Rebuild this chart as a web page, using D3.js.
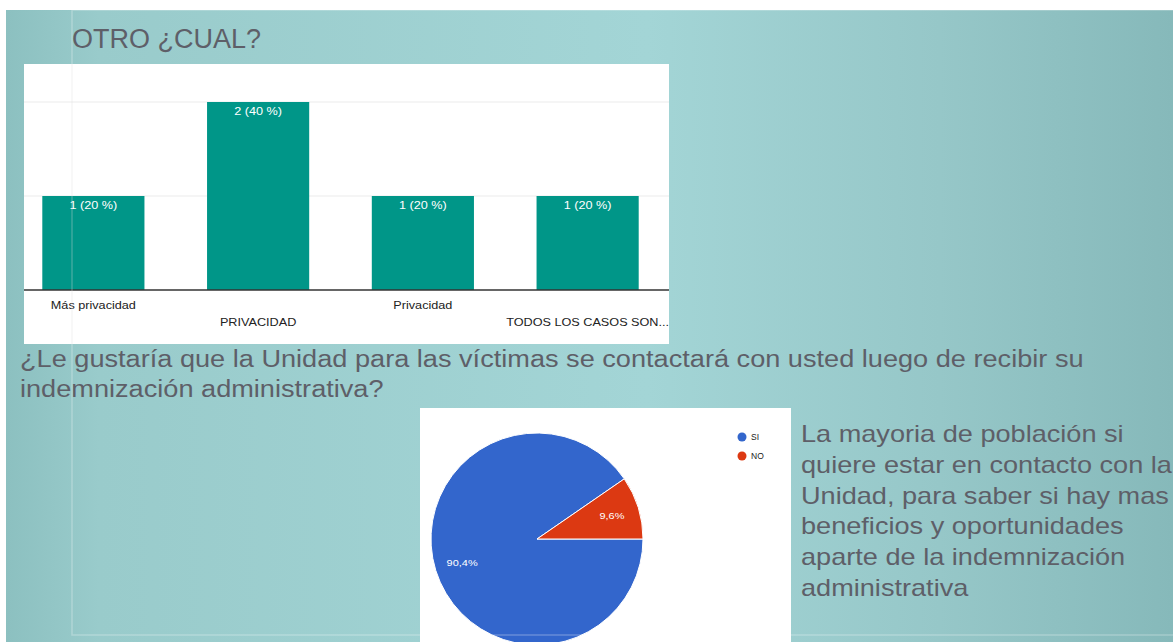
<!DOCTYPE html>
<html>
<head>
<meta charset="utf-8">
<script src="https://cdn.jsdelivr.net/npm/d3@7"></script>
<style>
  html, body { margin: 0; padding: 0; background: #fff; }
  svg { display: block; }
  text { font-family: "Liberation Sans", Arial, sans-serif; }
</style>
</head>
<body>
<div id="slide"></div>
<script>
// bar chart data (OTRO ¿CUAL?)
const barCategories = ['Más privacidad', 'PRIVACIDAD', 'Privacidad', 'TODOS LOS CASOS SON...'];
const barValues = [1, 2, 1, 1];
const barLabels = ['1 (20 %)', '2 (40 %)', '1 (20 %)', '1 (20 %)'];
const barTicks = [1, 2];

// pie chart data
const pieCategories = ['SI', 'NO'];
const pieValues = [90.4, 9.6];
const pieLabels = ['90,4%', '9,6%'];
const pieColors = ['#3366cc', '#dc3912'];

// slide texts
const titleText = 'OTRO ¿CUAL?';
const questionLines = [
  '¿Le gustaría que la Unidad para las víctimas se contactará con usted luego de recibir su',
  'indemnización administrativa?'
];
const noteLines = [
  'La mayoria de población si',
  'quiere estar en contacto con la',
  'Unidad, para saber si hay mas',
  'beneficios y oportunidades',
  'aparte de la indemnización',
  'administrativa'
];

const width = 1173, height = 642;
const textGray = '#5e5f68';

// the slide text is a bit wider than the local font, stretch it a little
function stretch(sel, k) {
  sel.each(function() {
    const w = this.getComputedTextLength();
    d3.select(this)
      .attr('textLength', w * k)
      .attr('lengthAdjust', 'spacingAndGlyphs');
  });
}

const svg = d3.select('#slide').append('svg')
  .attr('width', width)
  .attr('height', height);

// background gradient of the slide
const defs = svg.append('defs');
const grad = defs.append('linearGradient').attr('id', 'bg').attr('x1', '0%').attr('x2', '100%');
[['0%', '#8cc0c0'], ['8%', '#99cbcb'], ['55%', '#a3d5d6'], ['80%', '#96c7c8'], ['100%', '#86b9ba']]
  .forEach(s => grad.append('stop').attr('offset', s[0]).attr('stop-color', s[1]));

svg.append('rect')
  .attr('x', 6).attr('y', 10)
  .attr('width', width - 6).attr('height', height - 10)
  .attr('fill', 'url(#bg)');

// title
svg.append('text')
  .attr('x', 72).attr('y', 48)
  .attr('font-size', 27)
  .attr('fill', textGray)
  .text(titleText);

// ---------- bar chart ----------
const barBox = { x: 24, y: 64, w: 645, h: 280 };
svg.append('rect')
  .attr('x', barBox.x).attr('y', barBox.y)
  .attr('width', barBox.w).attr('height', barBox.h)
  .attr('fill', '#fff');

const x = d3.scaleBand()
  .domain(barCategories)
  .range([11, 670])
  .paddingInner(0.38)
  .paddingOuter(0.19);

const y = d3.scaleLinear()
  .domain([0, 2])
  .range([290, 102]);

const bars = svg.append('g');

// gridlines
bars.selectAll('line.grid')
  .data(barTicks)
  .enter().append('line')
  .attr('x1', barBox.x).attr('x2', barBox.x + barBox.w)
  .attr('y1', d => y(d)).attr('y2', d => y(d))
  .attr('stroke', '#ebebeb')
  .attr('stroke-width', 1);

bars.selectAll('rect.bar')
  .data(barValues)
  .enter().append('rect')
  .attr('x', (d, i) => x(barCategories[i]))
  .attr('y', d => y(d))
  .attr('width', x.bandwidth())
  .attr('height', d => y(0) - y(d))
  .attr('fill', '#009688');

bars.selectAll('text.val')
  .data(barValues)
  .enter().append('text')
  .attr('x', (d, i) => x(barCategories[i]) + x.bandwidth() / 2)
  .attr('y', d => y(d) + 13)
  .attr('text-anchor', 'middle')
  .attr('font-size', 11)
  .attr('fill', '#fff')
  .text((d, i) => barLabels[i])
  .call(stretch, 1.15);

// baseline
bars.append('line')
  .attr('x1', barBox.x).attr('x2', barBox.x + barBox.w)
  .attr('y1', y(0)).attr('y2', y(0))
  .attr('stroke', '#333')
  .attr('stroke-width', 1.5);

// category labels, staggered
bars.selectAll('text.cat')
  .data(barCategories)
  .enter().append('text')
  .attr('x', d => x(d) + x.bandwidth() / 2)
  .attr('y', (d, i) => i % 2 === 0 ? 309 : 326)
  .attr('text-anchor', 'middle')
  .attr('font-size', 11)
  .attr('fill', '#222')
  .text(d => d)
  .call(stretch, 1.15);

// question
svg.append('g').selectAll('text')
  .data(questionLines)
  .enter().append('text')
  .attr('x', 20)
  .attr('y', (d, i) => 367 + i * 30)
  .attr('font-size', 23)
  .attr('fill', textGray)
  .text(d => d)
  .call(stretch, 1.18);

// ---------- pie chart ----------
const pieBox = { x: 420, y: 408, w: 371, h: 240 };
svg.append('rect')
  .attr('x', pieBox.x).attr('y', pieBox.y)
  .attr('width', pieBox.w).attr('height', pieBox.h)
  .attr('fill', '#fff');

const cx = 537, cy = 539, r = 106;
const pie = d3.pie().sort(null)
  .startAngle(Math.PI / 2)
  .endAngle(Math.PI / 2 + 2 * Math.PI);
const arc = d3.arc().innerRadius(0).outerRadius(r);
const labelArc = d3.arc().innerRadius(r * 0.74).outerRadius(r * 0.74);
const arcs = pie(pieValues);

const pieG = svg.append('g').attr('transform', `translate(${cx},${cy})`);
pieG.selectAll('path')
  .data(arcs)
  .enter().append('path')
  .attr('d', arc)
  .attr('fill', (d, i) => pieColors[i])
  .attr('stroke', '#fff')
  .attr('stroke-width', 1);

pieG.selectAll('text')
  .data(arcs)
  .enter().append('text')
  .attr('transform', d => `translate(${labelArc.centroid(d)})`)
  .attr('text-anchor', 'middle')
  .attr('dy', '0.35em')
  .attr('font-size', 9.5)
  .attr('fill', '#fff')
  .text((d, i) => pieLabels[i])
  .call(stretch, 1.15);

// legend
const legend = svg.append('g');
legend.selectAll('circle')
  .data(pieCategories)
  .enter().append('circle')
  .attr('cx', 742)
  .attr('cy', (d, i) => 437 + i * 19)
  .attr('r', 4.5)
  .attr('fill', (d, i) => pieColors[i]);
legend.selectAll('text')
  .data(pieCategories)
  .enter().append('text')
  .attr('x', 751)
  .attr('y', (d, i) => 437 + i * 19)
  .attr('dy', '0.35em')
  .attr('font-size', 8.5)
  .attr('fill', '#222')
  .text(d => d);

// note on the right
svg.append('g').selectAll('text')
  .data(noteLines)
  .enter().append('text')
  .attr('x', 801)
  .attr('y', (d, i) => 442 + i * 30.8)
  .attr('font-size', 24)
  .attr('fill', textGray)
  .text(d => d)
  .call(stretch, 1.13);

// faint frame of the slide template
svg.append('rect')
  .attr('x', 72).attr('y', 10)
  .attr('width', width - 72 + 10).attr('height', 625)
  .attr('fill', 'none')
  .attr('stroke', '#fff')
  .attr('stroke-opacity', 0.25)
  .attr('stroke-width', 1.5);
svg.append('line')
  .attr('x1', 72).attr('x2', 72)
  .attr('y1', barBox.y).attr('y2', barBox.y + barBox.h)
  .attr('stroke', '#000')
  .attr('stroke-opacity', 0.06);
</script>
</body>
</html>
